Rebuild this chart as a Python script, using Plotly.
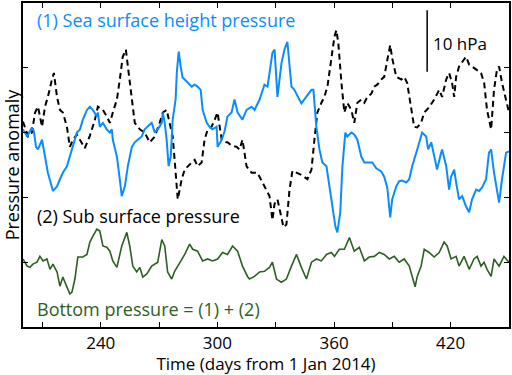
import plotly.graph_objects as go

# Sea surface height pressure (1)
ssh_day = [200.0, 202.1, 204.6, 205.6, 206.7, 207.7, 209.8, 211.3, 212.8, 215.4, 217.5, 219.0, 220.5, 222.6,
           224.1, 225.7, 227.7, 229.3, 230.8, 232.9, 234.4, 235.9, 238.0, 238.5, 239.5, 241.1, 243.1, 244.7,
           245.7, 246.2, 248.3, 249.8, 250.8, 252.4, 253.9, 256.0, 257.5, 259.0, 261.1, 262.6, 264.2, 266.2,
           267.8, 269.3, 271.4, 271.9, 272.9, 273.9, 274.9, 276.0, 277.0, 278.5, 279.1, 280.1, 281.1, 282.1,
           283.2, 284.7, 286.8, 288.3, 289.8, 291.4, 292.4, 294.5, 296.0, 297.5, 299.6, 300.1, 302.2, 303.7,
           305.2, 307.3, 308.8, 310.4, 312.9, 315.0, 317.6, 319.1, 321.7, 324.2, 325.8, 328.3, 329.4, 330.9,
           333.0, 334.5, 336.0, 338.1, 339.6, 343.2, 345.8, 348.4, 349.4, 350.9, 352.5, 354.0, 356.1, 357.6,
           359.1, 360.7, 361.7, 363.2, 364.3, 365.8, 366.8, 368.9, 370.4, 372.0, 374.0, 375.6, 378.1, 379.7,
           381.7, 384.3, 385.8, 387.4, 388.9, 389.9, 392.0, 393.5, 395.1, 397.1, 398.7, 400.2, 402.3, 403.8,
           405.3, 407.4, 408.4, 410.0, 411.5, 413.0, 415.1, 415.6, 417.7, 419.2, 420.2, 421.8, 422.8, 424.3,
           425.9, 427.9, 429.5, 431.0, 433.1, 434.6, 436.1, 438.2, 439.7, 440.8, 442.3, 443.8, 444.9, 446.4,
           448.5, 450.0]
ssh_val = [0.5, -0.6, 0.8, 0.2, -2.2, -2.6, -1.1, -3.7, -6.2, -9.0, -8.3, -7.2, -6.2, -5.2,
           -3.7, -2.2, 0.0, 0.5, 2.0, 3.5, 4.0, 3.5, 2.5, 3.1, 0.9, 1.5, 0.5, 0.0,
           0.5, -1.1, -3.7, -7.2, -9.8, -8.3, -5.2, -2.2, -1.5, -1.1, -0.6, 0.5, 0.9, 1.5,
           0.0, 0.5, 1.5, 3.1, 1.5, -1.1, -5.2, -3.7, 2.0, 5.1, 9.2, 12.5, 10.2, 8.5,
           8.2, 7.7, 7.1, 7.4, 7.1, 6.6, 3.5, 1.5, 0.9, 0.5, 0.9, -2.2, -1.1, 0.2,
           2.5, 3.1, 5.1, 3.1, 2.0, 3.5, 4.0, 3.5, 5.1, 7.4, 7.1, 12.3, 12.8, 5.5,
           10.8, 12.8, 14.0, 7.1, 6.6, 4.5, 5.5, 6.6, 6.6, 0.9, -2.6, -4.6, -5.2, -8.3,
           -11.4, -14.5, -15.4, -12.3, -5.2, 0.0, -0.6, 0.0, -0.3, -1.1, -3.7, -4.6, -4.6, -4.6,
           -5.5, -6.0, -6.8, -8.5, -13.1, -10.3, -8.3, -7.5, -7.4, -7.7, -7.2, -5.2, -3.1, -1.5,
           0.0, -0.6, -2.6, -1.5, -3.7, -5.7, -3.1, -2.6, -5.2, -8.8, -6.8, -5.7, -7.7, -10.3,
           -9.8, -11.4, -12.3, -10.3, -8.8, -9.0, -8.5, -7.2, -3.1, -2.6, -6.2, -9.2, -10.8, -7.2,
           -3.1, -2.9]

# Sub surface pressure (2)
ssp_day = [200.0, 202.6, 204.6, 206.2, 207.7, 209.8, 211.3, 212.8, 214.9, 215.9, 217.5, 219.0, 220.5, 222.6,
           224.1, 225.7, 227.7, 229.3, 231.8, 234.4, 237.0, 238.5, 241.1, 243.1, 244.7, 246.2, 248.3, 249.8,
           251.3, 252.9, 253.9, 256.0, 257.5, 260.1, 262.6, 265.2, 267.8, 270.3, 271.9, 273.9, 275.5, 277.0,
           278.0, 279.1, 279.6, 280.6, 281.6, 283.2, 284.7, 286.8, 288.3, 289.8, 291.9, 293.4, 295.0, 297.0,
           298.6, 300.1, 302.2, 303.7, 305.2, 307.3, 309.9, 311.4, 312.9, 315.0, 317.6, 320.6, 323.2, 325.3,
           326.8, 328.3, 329.4, 330.9, 332.4, 334.0, 335.5, 337.1, 338.6, 340.7, 343.7, 346.3, 348.4, 349.9,
           351.4, 353.5, 355.0, 356.6, 358.6, 360.2, 361.2, 362.2, 363.8, 365.3, 366.8, 368.9, 370.4, 372.0,
           374.0, 375.6, 377.1, 379.2, 380.7, 382.2, 384.3, 385.8, 387.4, 388.9, 389.9, 392.0, 394.6, 396.1,
           397.6, 399.7, 401.2, 402.8, 404.8, 406.4, 408.9, 411.5, 414.1, 415.6, 417.7, 419.2, 420.7, 421.8,
           422.8, 424.3, 425.9, 427.9, 429.5, 431.0, 433.1, 435.6, 437.2, 438.7, 440.8, 442.3, 443.8, 444.9,
           446.4, 448.5, 450.0]
ssp_val = [1.7, -0.6, 0.0, 3.1, 4.0, 0.9, 4.0, 5.5, 8.2, 9.2, 5.5, 3.5, 3.1, 0.9,
           -2.2, -1.1, -0.3, -1.1, -2.4, -0.5, 2.0, 4.0, 3.5, 2.5, 1.5, 3.1, 5.1, 8.2,
           11.7, 12.8, 10.2, 5.1, 1.5, 0.5, 0.0, -1.5, -0.6, 1.5, 3.1, 3.5, 1.5, -0.6,
           -4.2, -8.3, -10.3, -8.8, -7.2, -5.7, -5.2, -4.6, -4.2, -5.2, -4.6, -1.1, 0.5, 0.9,
           2.0, 3.1, -1.1, -1.5, -1.5, -2.0, -2.2, -2.6, -1.1, -5.2, -6.2, -6.2, -7.7, -8.8,
           -9.8, -13.5, -11.0, -10.3, -12.5, -14.6, -14.2, -8.8, -5.9, -6.2, -6.6, -7.2, -5.7, -1.1,
           3.1, 4.6, 5.5, 7.1, 11.2, 14.8, 15.8, 13.8, 7.7, 3.1, 4.6, 3.5, 1.5, 4.6,
           5.1, 4.6, 5.5, 6.0, 7.1, 7.4, 8.2, 8.6, 11.2, 13.5, 11.5, 8.6, 8.2, 8.6,
           7.7, 3.5, 0.9, 0.8, 1.5, 3.1, 3.9, 5.1, 6.6, 5.5, 8.2, 9.2, 7.7, 5.5,
           8.6, 10.2, 10.8, 11.7, 10.5, 10.2, 9.7, 9.2, 7.7, 3.5, 0.5, 6.6, 9.7, 10.2,
           7.7, 5.1, 3.1]

# Bottom pressure = (1) + (2)
bot_day = [200.0, 202.1, 203.6, 205.1, 207.2, 208.7, 210.3, 212.3, 213.9, 215.4, 217.5, 219.0, 220.5, 222.6,
           224.1, 225.2, 226.7, 228.2, 230.8, 232.9, 234.4, 235.9, 238.0, 239.5, 241.1, 243.1, 244.7, 246.2,
           248.3, 250.8, 253.4, 254.9, 256.5, 258.5, 260.1, 261.6, 263.7, 266.2, 267.8, 269.3, 271.4, 272.9,
           274.4, 276.5, 278.0, 280.6, 283.2, 285.7, 287.3, 289.8, 292.4, 295.0, 297.5, 300.1, 302.7, 305.2,
           307.8, 310.4, 312.9, 315.5, 316.5, 319.1, 321.7, 324.2, 326.8, 328.3, 330.4, 332.9, 335.5, 338.1,
           340.7, 343.2, 345.8, 348.4, 351.0, 353.5, 356.1, 358.6, 360.2, 362.7, 365.3, 367.9, 370.4, 373.0,
           375.6, 378.1, 380.7, 383.3, 385.8, 388.4, 391.0, 393.5, 396.1, 398.7, 400.2, 401.7, 402.8, 404.8,
           406.4, 408.9, 411.5, 414.1, 416.6, 418.2, 420.2, 422.8, 424.3, 426.9, 429.5, 432.0, 433.6, 435.6,
           437.2, 438.7, 440.8, 442.3, 444.9, 447.4, 450.0]
bot_val = [-19.5, -20.6, -20.8, -20.3, -20.0, -19.1, -19.8, -19.5, -21.1, -20.3, -21.5, -23.7, -22.3, -23.8,
           -24.9, -24.6, -22.6, -19.2, -19.2, -18.8, -16.9, -16.0, -14.9, -15.2, -17.5, -17.7, -18.3, -19.8,
           -20.8, -17.5, -15.4, -17.5, -20.6, -21.5, -20.8, -22.3, -21.8, -20.6, -20.3, -20.0, -16.5, -17.5,
           -21.5, -22.6, -21.4, -20.0, -18.8, -17.2, -18.0, -18.3, -19.8, -19.5, -19.8, -19.5, -18.5, -18.8,
           -17.5, -18.3, -20.6, -22.2, -22.6, -22.2, -21.5, -21.4, -20.8, -20.0, -22.6, -23.1, -22.6, -20.6,
           -18.8, -20.8, -22.6, -20.0, -19.5, -19.8, -18.8, -18.5, -19.1, -18.0, -18.0, -16.2, -18.3, -17.7,
           -19.8, -19.2, -19.1, -18.5, -18.8, -19.5, -19.1, -20.0, -19.5, -20.6, -22.2, -23.8, -22.2, -20.6,
           -18.0, -18.5, -19.2, -18.5, -16.9, -17.5, -19.5, -19.1, -20.6, -19.1, -21.1, -19.5, -19.1, -20.6,
           -20.0, -21.1, -22.2, -19.5, -20.6, -19.1, -20.0]

x_tickvals = [210, 240, 270, 300, 330, 360, 390, 420]
x_ticktext = ["", "240", "", "300", "", "360", "", "420"]

FONT = "Open Sans"
BLUE = "#0a8cff"
GREEN = "#2d5e22"

fig = go.Figure()
fig.add_trace(go.Scatter(x=ssp_day, y=ssp_val, mode="lines",
                         line=dict(color="black", width=2, dash="6px,4px")))
fig.add_trace(go.Scatter(x=ssh_day, y=ssh_val, mode="lines",
                         line=dict(color=BLUE, width=2)))
fig.add_trace(go.Scatter(x=bot_day, y=bot_val, mode="lines",
                         line=dict(color=GREEN, width=1.6)))

fig.add_annotation(x=206.4, y=17.4, text="(1) Sea surface height pressure", showarrow=False,
                   xanchor="left", yanchor="middle", font=dict(family=FONT, size=18, color=BLUE))
fig.add_annotation(x=206.0, y=-12.9, text="(2) Sub surface pressure", showarrow=False,
                   xanchor="left", yanchor="middle", font=dict(family=FONT, size=18, color="black"))
fig.add_annotation(x=206.4, y=-27.2, text="Bottom pressure = (1) + (2)", showarrow=False,
                   xanchor="left", yanchor="middle", font=dict(family=FONT, size=18, color=GREEN))
fig.add_annotation(x=409.8, y=13.8, text="10 hPa", showarrow=False,
                   xanchor="left", yanchor="middle", font=dict(family=FONT, size=17, color="black"))
fig.add_shape(type="line", x0=407.9, x1=407.9, y0=9.4, y1=18.9,
              line=dict(color="black", width=1.5))

axis_common = dict(showline=True, linecolor="black", linewidth=1.5, mirror="ticks",
                   ticks="inside", ticklen=5, tickcolor="black", tickwidth=1,
                   showgrid=False, zeroline=False, automargin=False)
fig.update_xaxes(range=[200, 450], tickvals=x_tickvals, ticktext=x_ticktext,
                 tickfont=dict(family=FONT, size=17, color="black"),
                 title=dict(text="Time (days from 1 Jan 2014)", standoff=6,
                            font=dict(family=FONT, size=17, color="black")),
                 **axis_common)
fig.update_yaxes(range=[-30, 20], dtick=10, showticklabels=False,
                 title=dict(text="Pressure anomaly", standoff=6,
                            font=dict(family=FONT, size=18, color="black")),
                 **axis_common)
fig.update_layout(width=512, height=375, showlegend=False,
                  paper_bgcolor="white", plot_bgcolor="white",
                  margin=dict(l=23, r=3, t=3, b=48))
fig.write_html("out.html", config={"displayModeBar": False},
               post_script="document.body.style.margin='0';document.body.style.padding='0';")
